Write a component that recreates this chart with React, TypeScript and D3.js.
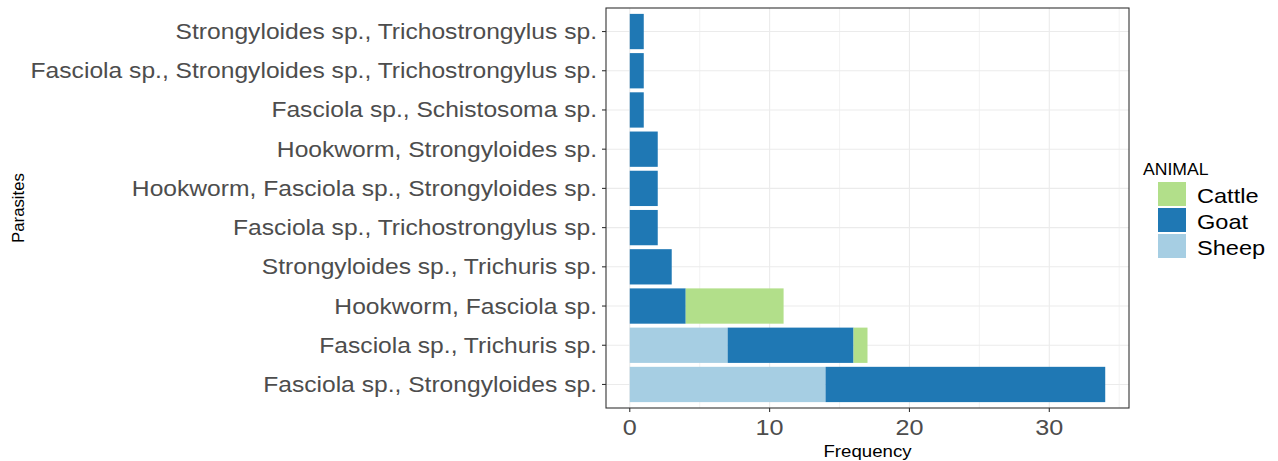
import { useEffect, useRef } from "react";
import * as d3 from "d3";

const W = 1278;
const H = 461;
const P = { left: 606, right: 1129, top: 8, bottom: 408 };

// bottom → top, as drawn
const parasites = [
  "Fasciola sp., Strongyloides sp.",
  "Fasciola sp., Trichuris sp.",
  "Hookworm, Fasciola sp.",
  "Strongyloides sp., Trichuris sp.",
  "Fasciola sp., Trichostrongylus sp.",
  "Hookworm, Fasciola sp., Strongyloides sp.",
  "Hookworm, Strongyloides sp.",
  "Fasciola sp., Schistosoma sp.",
  "Fasciola sp., Strongyloides sp., Trichostrongylus sp.",
  "Strongyloides sp., Trichostrongylus sp.",
];
const sheep = [14, 7, 0, 0, 0, 0, 0, 0, 0, 0];
const goat = [20, 9, 4, 3, 2, 2, 2, 1, 1, 1];
const cattle = [0, 1, 7, 0, 0, 0, 0, 0, 0, 0];

const animals = ["Cattle", "Goat", "Sheep"];
const colors = ["#b2df8a", "#1f78b4", "#a6cee3"];
const xTicks = [0, 10, 20, 30];
const xMinor = [5, 15, 25, 35];

const FONT = "'Liberation Sans', Arial, sans-serif";

// the reference was rendered with a wide Arial; stretch text a bit horizontally
function label(g: any, txt: string | number, x: number, y: number, size: number,
               anchor: string, fill: string, sx = 1.12, rotate = 0) {
  return g.append("text")
    .attr("transform", `translate(${x},${y}) rotate(${rotate}) scale(${sx},1)`)
    .attr("text-anchor", anchor)
    .attr("font-size", size)
    .attr("fill", fill)
    .attr("font-family", FONT)
    .text(txt);
}

export default function App() {
  const ref = useRef<SVGSVGElement>(null);

  useEffect(() => {
    const svg = d3.select(ref.current);
    svg.selectAll("*").remove();

    const x = d3.scaleLinear().domain([-1.7, 35.7]).range([P.left, P.right]);
    // discrete axis: positions 1..n with 0.6 expansion each side
    const n = parasites.length;
    const y = d3.scaleLinear().domain([0.4, n + 0.6]).range([P.bottom, P.top]);

    svg.append("rect").attr("width", W).attr("height", H).attr("fill", "#fff");

    const grid = svg.append("g");
    xMinor.forEach(v => {
      grid.append("line")
        .attr("x1", x(v)).attr("x2", x(v)).attr("y1", P.top).attr("y2", P.bottom)
        .attr("stroke", "#ebebeb").attr("stroke-width", 0.6);
    });
    xTicks.forEach(v => {
      grid.append("line")
        .attr("x1", x(v)).attr("x2", x(v)).attr("y1", P.top).attr("y2", P.bottom)
        .attr("stroke", "#ebebeb").attr("stroke-width", 1.1);
    });
    parasites.forEach((_, i) => {
      grid.append("line")
        .attr("x1", P.left).attr("x2", P.right).attr("y1", y(i + 1)).attr("y2", y(i + 1))
        .attr("stroke", "#ebebeb").attr("stroke-width", 1.1);
    });

    // stacked bars: Sheep at left, then Goat, then Cattle
    const rows = parasites.map((p, i) => ({ p, i, Sheep: sheep[i], Goat: goat[i], Cattle: cattle[i] }));
    const stack = d3.stack<any>().keys(["Sheep", "Goat", "Cattle"])(rows);
    const color = d3.scaleOrdinal<string>().domain(animals).range(colors);
    const bh = y(0) - y(0.9);

    stack.forEach(layer => {
      svg.append("g")
        .selectAll("rect")
        .data(layer.filter(d => d[1] > d[0]))
        .join("rect")
        .attr("x", d => x(d[0]))
        .attr("width", d => x(d[1]) - x(d[0]))
        .attr("y", d => y(d.data.i + 1) - bh / 2)
        .attr("height", bh)
        .attr("fill", color(layer.key));
    });

    // panel border
    svg.append("rect")
      .attr("x", P.left).attr("y", P.top)
      .attr("width", P.right - P.left).attr("height", P.bottom - P.top)
      .attr("fill", "none").attr("stroke", "#333").attr("stroke-width", 1.1);

    // y axis
    parasites.forEach((p, i) => {
      const yy = y(i + 1);
      svg.append("line")
        .attr("x1", P.left - 4).attr("x2", P.left).attr("y1", yy).attr("y2", yy)
        .attr("stroke", "#333").attr("stroke-width", 1.1);
      label(svg, p, P.left - 9, yy + 7.5, 21.5, "end", "#4d4d4d", 1.145);
    });

    // x axis
    xTicks.forEach(v => {
      svg.append("line")
        .attr("x1", x(v)).attr("x2", x(v)).attr("y1", P.bottom).attr("y2", P.bottom + 4)
        .attr("stroke", "#333").attr("stroke-width", 1.1);
      label(svg, v, x(v), 435, 22.5, "middle", "#4d4d4d", 1.12);
    });

    label(svg, "Frequency", (P.left + P.right) / 2, 457, 16.5, "middle", "#000", 1.13);
    label(svg, "Parasites", 24, (P.top + P.bottom) / 2, 16, "middle", "#000", 1.05, -90);

    // legend
    const lg = svg.append("g");
    label(lg, "ANIMAL", 1143, 175, 16, "start", "#000", 1.1);
    animals.forEach((a, i) => {
      const ky = 182 + i * 26;
      lg.append("rect")
        .attr("x", 1158).attr("y", ky).attr("width", 28).attr("height", 24)
        .attr("fill", color(a));
      label(lg, a, 1197, ky + 20.5, 20.5, "start", "#000", 1.15);
    });
  }, []);

  return <svg ref={ref} width={W} height={H} style={{ display: "block", position: "absolute", left: 0, top: 0 }} />;
}
